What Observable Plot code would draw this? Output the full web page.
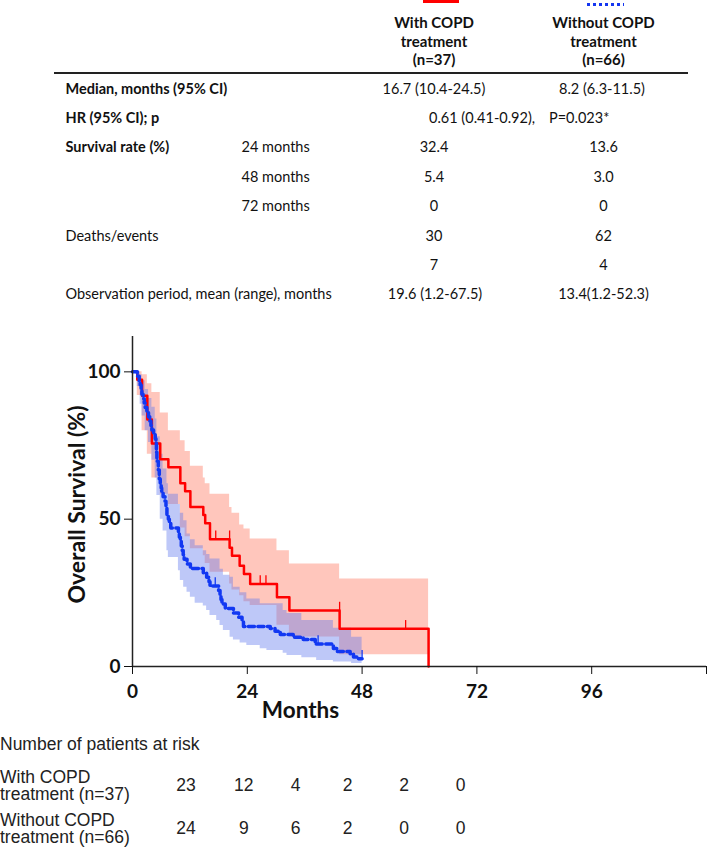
<!DOCTYPE html>
<html><head><meta charset="utf-8">
<script src="https://cdn.jsdelivr.net/npm/d3@7"></script>
<script src="https://cdn.jsdelivr.net/npm/@observablehq/plot@0.6"></script>
<style>
body{margin:0;background:#fff;}
#page{position:relative;width:708px;height:853px;overflow:hidden;font-family:Lato,sans-serif;color:#111;}
.t{position:absolute;white-space:nowrap;font-size:14.5px;line-height:1;}
.b{font-weight:bold;}
.h{font-size:15px;}
.r{font-family:"Liberation Sans",Arial,sans-serif;font-size:17.5px;color:#222;}
.m{white-space:pre;line-height:17.5px;}
#chart{position:absolute;left:0;top:320px;}
</style></head><body><div id="page"><div id="chart"></div></div>
<script>
// ---- table data ----
const groupNames = ["With COPD", "Without COPD"];
const groupN = ["(n=37)", "(n=66)"];
const medians = ["16.7 (10.4-24.5)", "8.2 (6.3-11.5)"];
const hrText = "0.61 (0.41-0.92),";
const pText = "P=0.023*";
const survMonths = ["24 months", "48 months", "72 months"];
const survWith = ["32.4", "5.4", "0"];
const survWithout = ["13.6", "3.0", "0"];
const deathsWith = ["30", "7"];
const deathsWithout = ["62", "4"];
const obsWith = "19.6 (1.2-67.5)";
const obsWithout = "13.4(1.2-52.3)";
const riskLabels = ["With COPD\ntreatment (n=37)", "Without COPD\ntreatment (n=66)"];
const atRiskWith = [23, 12, 4, 2, 2, 0];
const atRiskWithout = [24, 9, 6, 2, 0, 0];
// ---- axes ----
const xTicks = [0, 24, 48, 72, 96, 120];
const yTicks = [0, 50, 100];
// ---- With COPD treatment: KM steps and CI ----
const redT  = [0,1.0,2.0,3.1,4.05,5.8,7.5,10.0,11.0,12.1,14.8,15.2,16.2,20.3,20.8,22.4,23.3,24.6,30.2,32.8,43.3,61.9];
const redS  = [100,97.3,91.9,83.8,75.7,70.3,67.6,62.2,59.5,54.1,51.4,48.6,43.2,40.3,37.6,34.2,31.4,28.0,23.5,19.0,12.8,0];
const redLo = [100,92,80,72,64,58.5,55,47,44,40,37.6,35,32,28,26,24,22,20.7,14,10,4,4];
const redHi = [100,100,99,96,93,86,80,76.6,73,68,64,62,58.5,54,52,48,46.7,43.3,39.3,34.8,29.7,29.7];
const redCensorT = [17.4, 20.3, 26.7, 27.9, 43.3, 57.1];
// ---- Without COPD treatment ----
const blueT = [0,1.0,1.4,1.6,1.8,1.96,2.2,2.45,2.65,3.0,3.35,3.6,3.85,4.05,4.4,4.75,4.9,5.0,5.1,5.4,5.6,5.8,6.0,6.1,6.4,6.8,7.0,7.2,7.5,7.7,8.0,9.6,9.8,10.0,10.2,10.4,10.6,10.8,11.4,12.1,14.8,15.5,16.0,16.2,18.0,18.3,18.5,18.7,19.4,21.1,22.2,22.9,23.2,28.8,29.8,30.9,33.6,35.7,38.2,42.0,42.7,45.5,46.2,46.9,48.0];
const blueS = [100,98.5,97.0,95.5,93.9,92.4,90.9,89.4,87.9,86.4,84.8,83.3,81.8,80.3,78.8,77.3,75.8,72.7,69.7,66.7,63.6,62.1,60.6,59.1,57.6,56.1,54.5,51.5,50.0,48.5,47.0,45.5,43.9,42.4,40.9,39.4,37.9,36.4,34.8,33.3,31.8,30.3,28.8,27.3,25.8,24.2,22.7,21.2,19.7,18.2,16.7,15.2,13.6,12.9,12.0,10.9,9.9,9.2,7.6,6.1,5.1,4.3,3.2,2.6,2.6];
const blueBandT = [0,1.0,1.6,2.0,2.65,3.35,4.05,4.75,5.1,5.8,6.4,7.2,7.5,9.6,10.0,10.7,11.4,12.1,13.1,14.8,15.5,16.2,17.6,18.3,19.0,20.4,21.1,22.5,23.9,26.7,28.1,31.5,32.3,35.4,38.5,42.0,45.8,48.0];
const blueLo = [100,95,89,85,80,76,70,64,58,50,46,39.3,37,32.5,29.2,26.9,25.2,23.5,21.5,20.5,19.0,17.3,15.6,13.9,12.2,9.9,9,8,7.1,6,5.4,4.5,3.7,3,2,1.5,1,1];
const blueHi = [100,100,99,97,94,91,88,84,78,72,67,62,58.5,55,52,49.5,45,43,41,39.3,38,36.5,36.5,33,31,30.3,26.9,25,22.9,21.3,21.3,19,18,15.6,15.6,13,9.9,9.9];
const blueCensorT = [17.3, 38.8, 48.0];

// ---- HTML table ----
const page = document.getElementById("page");
function put(text, x, y, cls, center) {
  const el = document.createElement("div");
  el.className = "t " + (cls || "");
  el.textContent = text;
  el.style.left = x + "px";
  el.style.top = y + "px";
  el.style.transform = center ? "translate(-50%,-50%)" : "translateY(-50%)";
  page.appendChild(el);
  return el;
}
function box(x, y, w, h, bg) {
  const el = document.createElement("div");
  el.style.cssText = `position:absolute;left:${x}px;top:${y}px;width:${w}px;height:${h}px;background:${bg}`;
  page.appendChild(el);
}
// legend swatches
box(423, 0, 36, 3, "#ff0000");
box(587, 3, 37, 3, "repeating-linear-gradient(90deg,#1436f0 0 3px,transparent 3px 6px)");
const colX = [434, 603.5];
groupNames.forEach((g, i) => {
  put(g, colX[i], 21.7, "b h", true);
  put("treatment", colX[i], 40.7, "b h", true);
  put(groupN[i], colX[i], 59.3, "b h", true);
});
box(54, 72, 634, 1.6, "#222");
const lx = 65.5;
put("Median, months (95% CI)", lx, 89.3, "b");
put(medians[0], colX[0], 89.3, "", true);
put(medians[1], colX[1] - 1.5, 89.3, "", true);
put("HR (95% CI); p", lx, 118, "b");
put(hrText, 429, 118, "");
put(pText, 549, 118, "");
const survY = [146.7, 176.7, 206];
put("Survival rate (%)", lx, survY[0], "b");
survMonths.forEach((m, i) => {
  put(m, 241.5, survY[i], "");
  put(survWith[i], colX[0], survY[i], "", true);
  put(survWithout[i], colX[1], survY[i], "", true);
});
put("Deaths/events", lx, 236, "");
const dY = [236, 265];
deathsWith.forEach((d, i) => { put(d, colX[0], dY[i], "", true); put(deathsWithout[i], colX[1], dY[i], "", true); });
put("Observation period, mean (range), months", lx, 294, "");
put(obsWith, colX[0] + 1, 294, "", true);
put(obsWithout, colX[1], 294, "", true);

// at-risk table
put("Number of patients at risk", 0, 745, "r");
const riskY = [785.7, 828.5];
riskLabels.forEach((l, i) => put(l, 0, riskY[i], "r m"));
const riskX = [186, 243.8, 295.7, 347.7, 404, 460.5];
atRiskWith.forEach((v, i) => put(String(v), riskX[i], riskY[0], "r", true));
atRiskWithout.forEach((v, i) => put(String(v), riskX[i], riskY[1], "r", true));

// ---- chart ----
const redData = redT.map((t, i) => ({t, s: redS[i], lo: redLo[i], hi: redHi[i]}));
const blueData = blueT.map((t, i) => ({t, s: blueS[i]}));
const blueBand = blueBandT.map((t, i) => ({t, lo: blueLo[i], hi: blueHi[i]}));
const stepAt = (T, S, t) => { let v = S[0]; for (let i = 0; i < T.length; i++) if (T[i] < t) v = S[i]; return v; };
const redCens = redCensorT.map(t => ({t, s: stepAt(redT, redS, t)}));
const blueCens = blueCensorT.map(t => ({t, s: stepAt(blueT, blueS, t)}));

const chart = Plot.plot({
  width: 708, height: 420,
  marginLeft: 132, marginRight: 2, marginTop: 16, marginBottom: 74,
  x: {domain: [0, 120]},
  y: {domain: [0, 112]},
  style: {fontFamily: "Lato, sans-serif", background: "transparent", color: "#111", overflow: "visible"},
  marks: [
    Plot.areaY(redData, {x: "t", y1: "lo", y2: "hi", curve: "step-after", fill: "#ffc6bc"}),
    Plot.areaY(blueBand, {x: "t", y1: "lo", y2: "hi", curve: "step-after", fill: "#5c75ed", fillOpacity: 0.4}),
    Plot.lineY(redData, {x: "t", y: "s", curve: "step-after", stroke: "#ff0000", strokeWidth: 2.5}),
    Plot.ruleX(redCens, {x: "t", y1: "s", y2: d => d.s + 2.8, stroke: "#ff0000", strokeWidth: 1.3}),
    Plot.lineY(blueData, {x: "t", y: "s", curve: "step-after", stroke: "#1238f2", strokeWidth: 3.5, strokeDasharray: "6,3.5"}),
    Plot.ruleX(blueCens, {x: "t", y1: "s", y2: d => d.s + 2.8, stroke: "#1238f2", strokeWidth: 1.3}),
    Plot.ruleY([0], {stroke: "#222", strokeWidth: 1.5}),
    Plot.ruleX([0], {stroke: "#222", strokeWidth: 1.5}),
    Plot.axisX({ticks: xTicks, tickSize: 8, tickPadding: 10, tickFormat: d => d === 120 ? "" : String(d), fontSize: 19, fontWeight: "bold", label: null}),
    Plot.axisY({ticks: yTicks, tickSize: 8, tickPadding: 4, fontSize: 19, fontWeight: "bold", label: null}),
    Plot.text(["Overall Survival (%)"], {text: d => d, frameAnchor: "left", textAnchor: "middle", lineAnchor: "middle", rotate: -90, dx: -55, dy: 3, fontSize: 23, fontWeight: "bold"}),
    Plot.text(["Months"], {text: d => d, frameAnchor: "bottom", textAnchor: "middle", lineAnchor: "middle", dx: -119, dy: 44, fontSize: 22.5, fontWeight: "bold"})
  ]
});
document.getElementById("chart").appendChild(chart);
</script></body></html>
